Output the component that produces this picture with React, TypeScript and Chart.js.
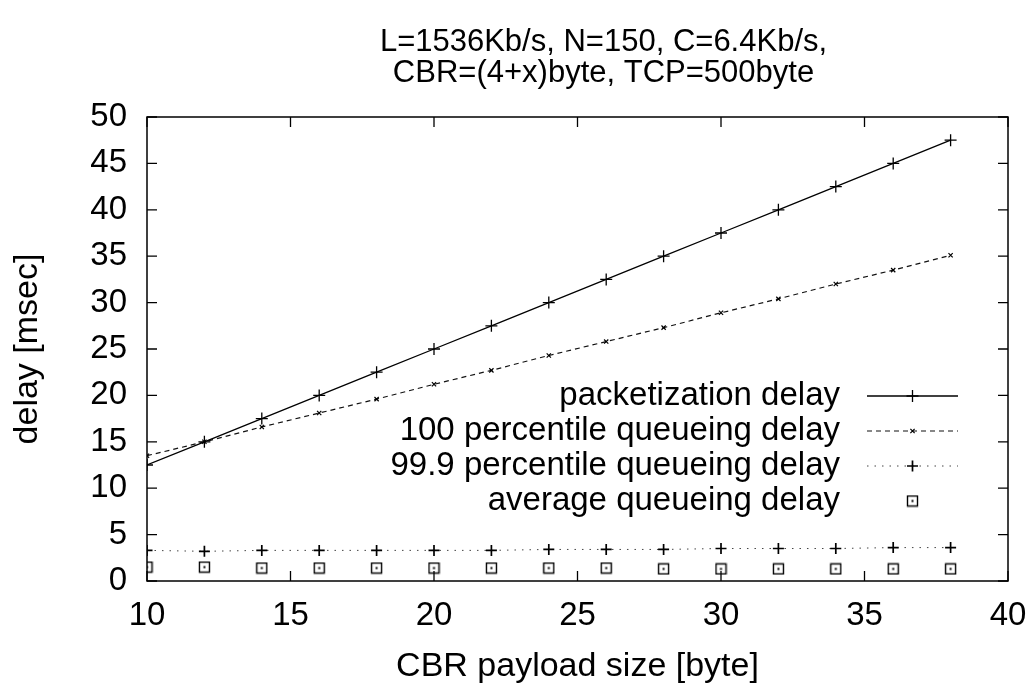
import React, { useEffect, useRef } from "react";
import { Chart, registerables } from "chart.js";
import { drawPoint } from "chart.js/helpers";

Chart.register(...registerables);

// CBR payload sizes (bytes) at which delays were evaluated
const payloadSizes = [10, 12, 14, 16, 18, 20, 22, 24, 26, 28, 30, 32, 34, 36, 38];

// Delay series in msec
const packetizationDelay = [12.5, 15, 17.5, 20, 22.5, 25, 27.5, 30, 32.5, 35, 37.5, 40, 42.5, 45, 47.5];
const queueing100 = [13.5, 15.0, 16.6, 18.1, 19.6, 21.2, 22.7, 24.3, 25.8, 27.3, 28.9, 30.4, 32.0, 33.5, 35.1];
const queueing999 = [3.3, 3.2, 3.3, 3.3, 3.3, 3.3, 3.3, 3.4, 3.4, 3.4, 3.5, 3.5, 3.5, 3.6, 3.6];
const queueingAvg = [1.5, 1.5, 1.4, 1.4, 1.4, 1.4, 1.4, 1.4, 1.4, 1.3, 1.3, 1.3, 1.3, 1.3, 1.3];

const seriesLabels = [
  "packetization delay",
  "100 percentile queueing delay",
  "99.9 percentile queueing delay",
  "average queueing delay",
];

const xTicks = [10, 15, 20, 25, 30, 35, 40];
const yTicks = [0, 5, 10, 15, 20, 25, 30, 35, 40, 45, 50];

const titleLines = ["L=1536Kb/s, N=150, C=6.4Kb/s,", "CBR=(4+x)byte, TCP=500byte"];
const xTitle = "CBR payload size [byte]";
const yTitle = "delay [msec]";

const FONT = '"Liberation Sans", Arial, Helvetica, sans-serif';

function toPoints(ys: number[]) {
  return payloadSizes.map((x, i) => ({ x, y: ys[i] }));
}

// Open square with a dot in its centre
function makeSquareMarker(): HTMLCanvasElement {
  const c = document.createElement("canvas");
  c.width = 13;
  c.height = 13;
  const g = c.getContext("2d")!;
  g.strokeStyle = "#000";
  g.lineWidth = 1.4;
  g.strokeRect(1.5, 1.5, 10, 10);
  g.fillStyle = "#000";
  g.fillRect(5.5, 5.5, 2, 2);
  return c;
}

// Two-line heading above the plot, set slightly right of the plot centre
const headingPlugin = {
  id: "heading",
  afterDraw(chart: any) {
    const { ctx, chartArea } = chart;
    const cx = (chartArea.left + chartArea.right) / 2 + 26;
    ctx.save();
    ctx.font = `31px ${FONT}`;
    ctx.fillStyle = "#000";
    ctx.textAlign = "center";
    ctx.textBaseline = "middle";
    titleLines.forEach((line, i) => {
      ctx.fillText(line, cx, 42 + i * 31);
    });
    ctx.restore();
  },
};

// Plot frame with inward tick marks mirrored on all four sides
const framePlugin = {
  id: "frameTicks",
  beforeDatasetsDraw(chart: any) {
    const { ctx, chartArea, scales } = chart;
    const { left, right, top, bottom } = chartArea;
    const len = 10;
    ctx.save();
    ctx.strokeStyle = "#000";
    ctx.lineWidth = 1.5;
    ctx.strokeRect(left, top, right - left, bottom - top);
    ctx.lineWidth = 1.3;
    ctx.beginPath();
    scales.x.ticks.forEach((t: any) => {
      const px = scales.x.getPixelForValue(t.value);
      ctx.moveTo(px, bottom);
      ctx.lineTo(px, bottom - len);
      ctx.moveTo(px, top);
      ctx.lineTo(px, top + len);
    });
    scales.y.ticks.forEach((t: any) => {
      const py = scales.y.getPixelForValue(t.value);
      ctx.moveTo(left, py);
      ctx.lineTo(left + len, py);
      ctx.moveTo(right, py);
      ctx.lineTo(right - len, py);
    });
    ctx.stroke();
    ctx.restore();
  },
};

// Key inside the plot: label on the left, line sample and marker on the right
const keyPlugin = {
  id: "keyBox",
  afterDatasetsDraw(chart: any) {
    const { ctx, chartArea } = chart;
    const textRight = chartArea.right - 168;
    const sampleStart = chartArea.right - 141;
    const sampleEnd = chartArea.right - 50;
    const mid = (sampleStart + sampleEnd) / 2;
    const rowTop = chartArea.top + 279;
    const rowGap = 35;
    ctx.save();
    ctx.font = `33px ${FONT}`;
    ctx.textAlign = "right";
    ctx.textBaseline = "middle";
    chart.data.datasets.forEach((ds: any, i: number) => {
      const y = rowTop + i * rowGap;
      ctx.fillStyle = "#000";
      ctx.fillText(ds.label, textRight, y);
      if (ds.showLine !== false) {
        ctx.save();
        ctx.strokeStyle = ds.borderColor;
        ctx.lineWidth = ds.borderWidth;
        ctx.setLineDash(ds.borderDash || []);
        ctx.beginPath();
        ctx.moveTo(sampleStart, y);
        ctx.lineTo(sampleEnd, y);
        ctx.stroke();
        ctx.restore();
      }
      ctx.save();
      ctx.strokeStyle = ds.pointBorderColor || "#000";
      ctx.fillStyle = ds.pointBorderColor || "#000";
      ctx.lineWidth = ds.pointBorderWidth || 1;
      drawPoint(
        ctx,
        { pointStyle: ds.pointStyle, radius: ds.pointRadius, borderWidth: ds.pointBorderWidth || 1, rotation: 0 },
        mid,
        y
      );
      ctx.restore();
    });
    ctx.restore();
  },
};

export default function App() {
  const canvasRef = useRef<HTMLCanvasElement | null>(null);

  useEffect(() => {
    const canvas = canvasRef.current;
    if (!canvas) return;
    const squareMarker = makeSquareMarker();

    const chart = new Chart(canvas, {
      type: "line",
      data: {
        datasets: [
          {
            label: seriesLabels[0],
            data: toPoints(packetizationDelay),
            borderColor: "#000",
            borderWidth: 1.3,
            pointStyle: "cross",
            pointRadius: 6,
            pointBorderWidth: 1.3,
            pointBorderColor: "#000",
            pointBackgroundColor: "#000",
            fill: false,
          },
          {
            label: seriesLabels[1],
            data: toPoints(queueing100),
            borderColor: "#111",
            borderWidth: 1.2,
            borderDash: [5, 4],
            pointStyle: "crossRot",
            pointRadius: 3,
            pointBorderWidth: 1.2,
            pointBorderColor: "#000",
            pointBackgroundColor: "#000",
            fill: false,
          },
          {
            label: seriesLabels[2],
            data: toPoints(queueing999),
            borderColor: "#444",
            borderWidth: 1,
            borderDash: [1.5, 6],
            pointStyle: "cross",
            pointRadius: 5.5,
            pointBorderWidth: 1.7,
            pointBorderColor: "#000",
            pointBackgroundColor: "#000",
            fill: false,
          },
          {
            label: seriesLabels[3],
            data: toPoints(queueingAvg),
            showLine: false,
            pointStyle: squareMarker as any,
            pointRadius: 6,
            pointBorderWidth: 1.4,
            pointBorderColor: "#000",
            pointBackgroundColor: "#000",
            fill: false,
          },
        ] as any,
      },
      options: {
        responsive: false,
        animation: false,
        devicePixelRatio: 1,
        layout: { padding: { left: 0, right: 24, top: 117, bottom: 0 } },
        elements: { line: { tension: 0 } },
        plugins: {
          legend: { display: false },
          tooltip: { enabled: false },
          title: { display: false },
        },
        scales: {
          x: {
            type: "linear",
            min: 10,
            max: 40,
            afterBuildTicks: (s: any) => {
              s.ticks = xTicks.map((v) => ({ value: v }));
            },
            afterFit: (s: any) => {
              s.height = 104;
              s.paddingLeft = 0;
              s.paddingRight = 0;
            },
            grid: { display: false, drawTicks: false },
            border: { display: false },
            ticks: {
              color: "#000",
              font: { family: FONT, size: 33 },
              padding: 15,
              maxRotation: 0,
              autoSkip: false,
            },
            title: {
              display: true,
              text: xTitle,
              color: "#000",
              font: { family: FONT, size: 34, lineHeight: 1.1 },
              padding: { top: 0, bottom: 0 },
            },
          },
          y: {
            type: "linear",
            min: 0,
            max: 50,
            afterBuildTicks: (s: any) => {
              s.ticks = yTicks.map((v) => ({ value: v }));
            },
            afterFit: (s: any) => {
              s.width = 147;
              s.paddingTop = 0;
              s.paddingBottom = 0;
            },
            grid: { display: false, drawTicks: false },
            border: { display: false },
            ticks: {
              color: "#000",
              font: { family: FONT, size: 33 },
              padding: 20,
              autoSkip: false,
            },
            title: {
              display: true,
              text: yTitle,
              color: "#000",
              font: { family: FONT, size: 34, lineHeight: 1.2 },
              padding: { top: 7, bottom: 0 },
            },
          },
        },
      } as any,
      plugins: [framePlugin, keyPlugin, headingPlugin],
    });

    return () => chart.destroy();
  }, []);

  return (
    <div style={{ position: "absolute", left: 0, top: 0, width: 1032, height: 685, background: "#fff" }}>
      <canvas ref={canvasRef} width={1032} height={685} />
    </div>
  );
}
